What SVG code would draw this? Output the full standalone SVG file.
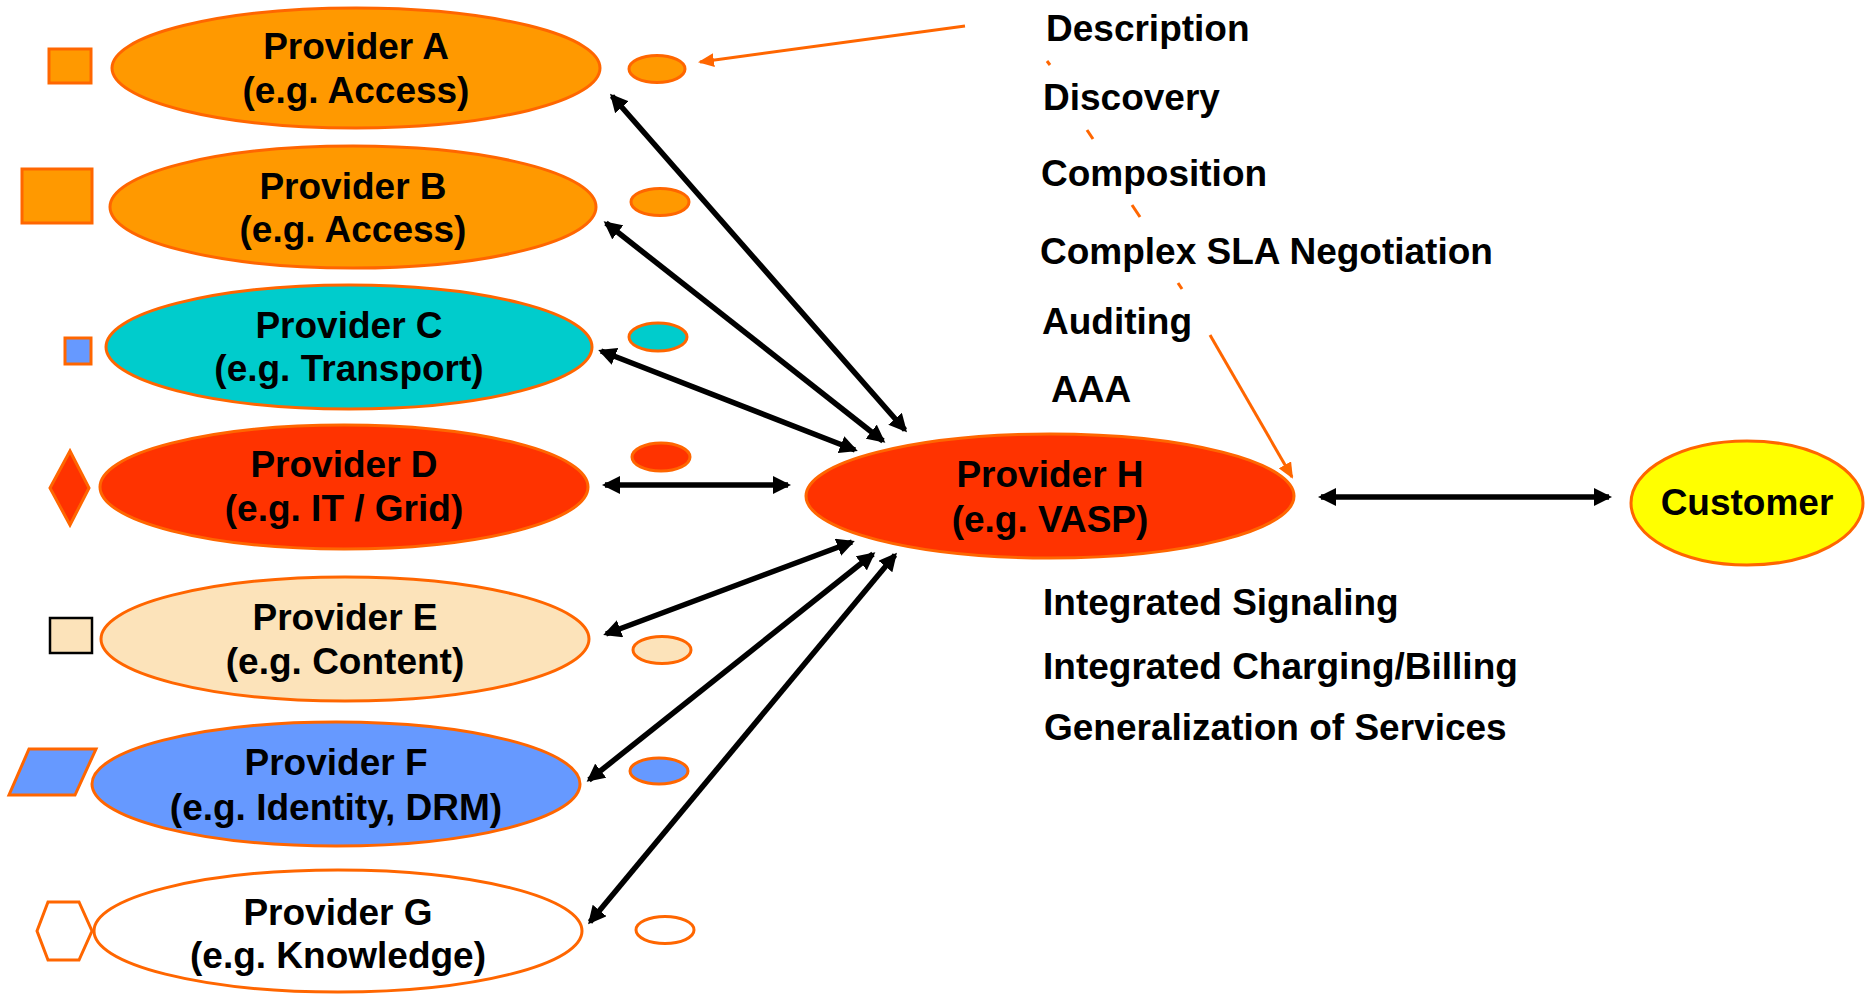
<svg xmlns="http://www.w3.org/2000/svg" width="1865" height="994" viewBox="0 0 1865 994">
<style>
  .t { font-family: "Liberation Sans", Arial, sans-serif; font-weight: bold; font-size: 37px; fill: #000; }
  .c { text-anchor: middle; }
  .ob { stroke: #FF6600; stroke-width: 3; }
  .conn { stroke: #000; stroke-width: 5.5; fill: none; marker-start: url(#ah); marker-end: url(#ah); }
  .oline { stroke: #FF6600; stroke-width: 3; fill: none; }
</style>
<defs>
  <marker id="ah" viewBox="0 0 18 18" refX="15" refY="9" markerWidth="18" markerHeight="18" markerUnits="userSpaceOnUse" orient="auto-start-reverse">
    <path d="M0,0 L18,9 L0,18 z" fill="#000"/>
  </marker>
  <marker id="oh" viewBox="0 0 16 14" refX="14" refY="7" markerWidth="16" markerHeight="14" markerUnits="userSpaceOnUse" orient="auto">
    <path d="M0,0 L16,7 L0,14 z" fill="#FF6600"/>
  </marker>
</defs>
<rect width="1865" height="994" fill="#fff"/>

<g id="connectors">
  <line class="conn" x1="612" y1="96" x2="905" y2="430"/>
  <line class="conn" x1="606" y1="223" x2="883" y2="441"/>
  <line class="conn" x1="601" y1="351" x2="855" y2="450"/>
  <line class="conn" x1="605" y1="485" x2="788" y2="485"/>
  <line class="conn" x1="606" y1="634" x2="852" y2="542"/>
  <line class="conn" x1="589" y1="780" x2="873" y2="554"/>
  <line class="conn" x1="590" y1="922" x2="895" y2="555"/>
  <line class="conn" x1="1321" y1="497" x2="1609" y2="497"/>
  <line class="oline" x1="965" y1="26" x2="700" y2="62" marker-end="url(#oh)"/>
  <line class="oline" x1="1047" y1="61" x2="1050" y2="65"/>
  <line class="oline" x1="1087" y1="130" x2="1093" y2="139"/>
  <line class="oline" x1="1132" y1="205" x2="1140" y2="217"/>
  <line class="oline" x1="1178" y1="283" x2="1182" y2="289"/>
  <line class="oline" x1="1210" y1="335" x2="1292" y2="477" marker-end="url(#oh)"/>
</g>

<g id="providerA">
  <rect x="49" y="49" width="42" height="34" fill="#FF9900" class="ob"/>
  <ellipse cx="356" cy="68" rx="244" ry="60" fill="#FF9900" class="ob"/>
  <text class="t c" x="356" y="59">Provider A</text>
  <text class="t c" x="356" y="103">(e.g. Access)</text>
  <ellipse cx="657" cy="69" rx="28" ry="13.5" fill="#FF9900" class="ob"/>
</g>
<g id="providerB">
  <rect x="22" y="169" width="70" height="54" fill="#FF9900" class="ob"/>
  <ellipse cx="353" cy="207" rx="243" ry="61" fill="#FF9900" class="ob"/>
  <text class="t c" x="353" y="199">Provider B</text>
  <text class="t c" x="353" y="242">(e.g. Access)</text>
  <ellipse cx="660" cy="202" rx="29" ry="13.5" fill="#FF9900" class="ob"/>
</g>
<g id="providerC">
  <rect x="65" y="338" width="26" height="26" fill="#6699FF" class="ob"/>
  <ellipse cx="349" cy="347" rx="243" ry="62" fill="#00CCCC" class="ob"/>
  <text class="t c" x="349" y="338">Provider C</text>
  <text class="t c" x="349" y="381">(e.g. Transport)</text>
  <ellipse cx="658" cy="337" rx="29" ry="14" fill="#00CCCC" class="ob"/>
</g>
<g id="providerD">
  <polygon points="70,451 89,488 70,525 50,488" fill="#FF3300" class="ob"/>
  <ellipse cx="344" cy="487" rx="244" ry="62" fill="#FF3300" class="ob"/>
  <text class="t c" x="344" y="477">Provider D</text>
  <text class="t c" x="344" y="521">(e.g. IT / Grid)</text>
  <ellipse cx="661" cy="457" rx="29" ry="14" fill="#FF3300" class="ob"/>
</g>
<g id="providerE">
  <rect x="50" y="618" width="42" height="35" fill="#FCE3BA" stroke="#000" stroke-width="2.5"/>
  <ellipse cx="345" cy="639" rx="244" ry="62" fill="#FCE3BA" class="ob"/>
  <text class="t c" x="345" y="630">Provider E</text>
  <text class="t c" x="345" y="674">(e.g. Content)</text>
  <ellipse cx="662" cy="650" rx="29" ry="13.5" fill="#FCE3BA" class="ob"/>
</g>
<g id="providerF">
  <polygon points="29,749 96,749 75,795 9,795" fill="#6699FF" class="ob"/>
  <ellipse cx="336" cy="784" rx="244" ry="62" fill="#6699FF" class="ob"/>
  <text class="t c" x="336" y="775">Provider F</text>
  <text class="t c" x="336" y="820">(e.g. Identity, DRM)</text>
  <ellipse cx="659" cy="771" rx="29" ry="13" fill="#6699FF" class="ob"/>
</g>
<g id="providerG">
  <polygon points="48,902 79,902 92,931 79,960 48,960 37,931" fill="#fff" class="ob"/>
  <ellipse cx="338" cy="931" rx="244" ry="61" fill="#fff" class="ob"/>
  <text class="t c" x="338" y="925">Provider G</text>
  <text class="t c" x="338" y="968">(e.g. Knowledge)</text>
  <ellipse cx="665" cy="930" rx="29" ry="13.5" fill="#fff" class="ob"/>
</g>
<g id="providerH">
  <ellipse cx="1050" cy="496" rx="244" ry="62" fill="#FF3300" class="ob"/>
  <text class="t c" x="1050" y="487">Provider H</text>
  <text class="t c" x="1050" y="532">(e.g. VASP)</text>
</g>
<g id="customer">
  <ellipse cx="1747" cy="503" rx="116" ry="62" fill="#FFFF00" class="ob"/>
  <text class="t c" x="1747" y="515">Customer</text>
</g>
<g id="labels">
  <text class="t" x="1046" y="41">Description</text>
  <text class="t" x="1043" y="110">Discovery</text>
  <text class="t" x="1041" y="186">Composition</text>
  <text class="t" x="1040" y="264">Complex SLA Negotiation</text>
  <text class="t" x="1042" y="334">Auditing</text>
  <text class="t" x="1051" y="402">AAA</text>
  <text class="t" x="1043" y="615">Integrated Signaling</text>
  <text class="t" x="1043" y="679">Integrated Charging/Billing</text>
  <text class="t" x="1044" y="740">Generalization of Services</text>
</g>
</svg>
